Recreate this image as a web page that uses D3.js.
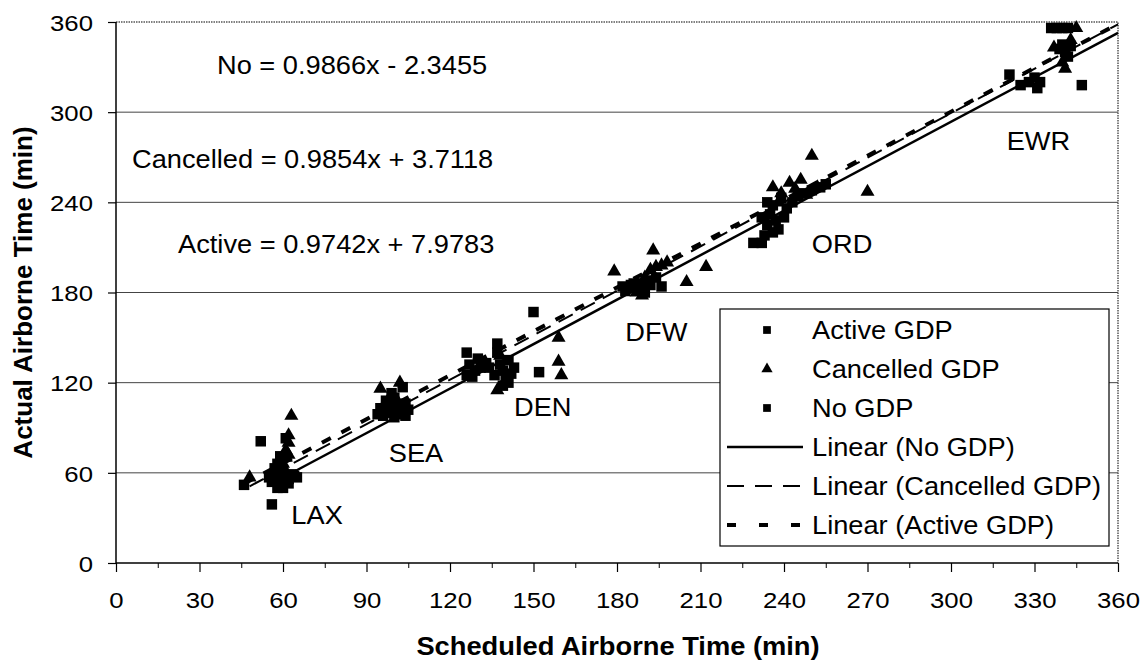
<!DOCTYPE html>
<html>
<head>
<meta charset="utf-8">
<script src="https://cdn.jsdelivr.net/npm/d3@7"></script>
<style>
  html, body { margin: 0; padding: 0; background: #fff; }
  svg { display: block; font-family: "Liberation Sans", Arial, sans-serif; }
</style>
</head>
<body>
<svg id="chart" width="1147" height="666"></svg>
<script>
// Scheduled vs. actual airborne time (minutes), by GDP status
const activeGDP = [
  [46,52],[52,81],[55,57],[58,60],[59,71],[60,62],[62,56],[61,83],[57,63],[64,58],[60,50],
  [96,98],[98,105],[100,97],[102,99],[104,106],[100,110],[99,113],[94,99],[105,102],
  [126,140],[129,128],[131,130],[134,130],[128,124],
  [137,146],[138,132],[140,124],[142,126],[139,118],[136,125],[152,127],
  [182,184],[186,186],[189,186],[191,188],[194,190],[185,185],
  [229,213],[233,218],[235,232],[237,228],[240,230],[243,240],[247,246],[253,250],[234,240],[232,230],
  [321,325],[330,323],[347,318],[336,356],[340,356],[340,345],[342,337],[343,344],[328,320]
];
const cancelledGDP = [
  [48,57],[58,62],[60,64],[61,70],[61,75],[62,80],[62,85],[63,98],[59,60],[60,66],[62,72],[57,56],
  [95,116],[102,120],[96,104],[98,109],[101,108],[104,103],[97,100],
  [137,115],[159,150],[159,134],[160,125],[138,138],[140,122],
  [179,194],[193,208],[190,190],[192,195],[194,197],[196,198],[198,200],[205,187],[212,197],[189,178],[187,180],
  [236,250],[242,253],[250,271],[270,247],[239,246],[244,249],[248,245],[252,250],[246,255],[238,240],
  [345,356],[337,343],[341,329],[340,333],[343,348]
];
const noGDP = [
  [56,39],[57,58],[58,66],[60,55],[61,58],[63,59],[59,52],[56,54],[62,53],[65,57],[58,50],
  [97,102],[99,100],[101,104],[103,101],[104,98],[103,117],[97,108],[95,103],[100,101],
  [127,132],[130,136],[133,133],[126,125],
  [137,140],[139,128],[141,120],[143,130],[141,135],[150,167],
  [184,183],[188,182],[190,180],[192,185],[196,184],[183,181],
  [232,213],[234,225],[236,238],[238,222],[241,236],[245,244],[250,248],[255,252],[239,243],[236,220],
  [325,318],[331,316],[338,356],[342,356],[341,340],[339,342],[332,320]
];

// Linear trend fits: [slope, intercept]
const fitNo = [0.9866, -2.3455];
const fitCancelled = [0.9854, 3.7118];
const fitActive = [0.9742, 7.9783];

const equationLabels = [
  "No = 0.9866x - 2.3455",
  "Cancelled = 0.9854x + 3.7118",
  "Active = 0.9742x + 7.9783"
];
const airportNames = ["LAX", "SEA", "DEN", "DFW", "ORD", "EWR"];
const airportAt = [[63, 26], [98, 67], [143, 98], [183, 148], [250, 206], [320, 275]];

const xTicks = [0, 30, 60, 90, 120, 150, 180, 210, 240, 270, 300, 330, 360];
const xMinorTicks = [15, 45, 75, 105, 135, 165, 195, 225, 255, 285, 315, 345];
const yTicks = [0, 60, 120, 180, 240, 300, 360];
const legendLabels = ["Active GDP", "Cancelled GDP", "No GDP", "Linear (No GDP)", "Linear (Cancelled GDP)", "Linear (Active GDP)"];

const svg = d3.select("#chart");
const L = 116, R = 1118, T = 22, B = 563;
const SX = 1.09; // horizontal widening of the lettering
const x = d3.scaleLinear().domain([0, 360]).range([L, R]);
const y = d3.scaleLinear().domain([0, 360]).range([B, T]);

// horizontal gridlines
svg.append("g").selectAll("line").data(yTicks.filter(v => v > 0 && v < 360)).join("line")
  .attr("x1", L).attr("x2", R).attr("y1", d => y(d)).attr("y2", d => y(d))
  .attr("stroke", "#444").attr("stroke-width", 1);

// dotted frame on top and right
svg.append("path")
  .attr("d", `M${L},${T}H${R}V${B}`)
  .attr("fill", "none").attr("stroke", "#555").attr("stroke-width", 1.5)
  .attr("stroke-dasharray", "1.5,1");

// trend lines
const trendLine = (fit, x0) => {
  const f = v => fit[0] * v + fit[1];
  return d3.line().x(d => x(d)).y(d => y(f(d)))([x0, 360]);
};
const minX = arr => d3.min(arr, d => d[0]);
svg.append("path").attr("d", trendLine(fitNo, minX(noGDP)))
  .attr("stroke", "#000").attr("stroke-width", 2.5).attr("fill", "none");
svg.append("path").attr("d", trendLine(fitCancelled, minX(cancelledGDP)))
  .attr("stroke", "#000").attr("stroke-width", 2).attr("stroke-dasharray", "16,9").attr("fill", "none");
svg.append("path").attr("d", trendLine(fitActive, minX(activeGDP)))
  .attr("stroke", "#000").attr("stroke-width", 4).attr("stroke-dasharray", "10,12").attr("fill", "none");

// markers
const sq = d3.symbol().type(d3.symbolSquare).size(110);
const tri = d3.symbol().type(d3.symbolTriangle).size(85);
const drawPts = (data, sym) => svg.append("g").selectAll("path").data(data).join("path")
  .attr("d", sym).attr("transform", d => `translate(${x(d[0])},${y(d[1])})`).attr("fill", "#000");
drawPts(noGDP, sq);
drawPts(cancelledGDP, tri);
drawPts(activeGDP, sq);

// axes
const yAxis = svg.append("g").attr("transform", `translate(${L},0)`)
  .call(d3.axisLeft(y).tickValues(yTicks).tickSize(8).tickPadding(15));
const xAxis = svg.append("g").attr("transform", `translate(0,${B})`)
  .call(d3.axisBottom(x).tickValues(xTicks).tickSize(9).tickPadding(20));
svg.append("g").attr("transform", `translate(0,${B})`)
  .call(d3.axisBottom(x).tickValues(xMinorTicks).tickSize(5).tickFormat(""))
  .call(g => g.select(".domain").remove());
[yAxis, xAxis].forEach(g => {
  g.select(".domain").attr("stroke", "#000").attr("stroke-width", 1.5);
  g.selectAll(".tick line").attr("stroke", "#000").attr("stroke-width", 1.2);
  g.selectAll(".tick text").attr("font-size", 23).attr("fill", "#000")
    .attr("font-family", "Liberation Sans, Arial, sans-serif");
});
yAxis.selectAll(".tick text").attr("dy", "0.36em")
  .attr("transform", function () { return `translate(${+d3.select(this).attr("x")},0) scale(1.12,1)`; })
  .attr("x", 0);
xAxis.selectAll(".tick text").attr("transform", "scale(1.12,1)");
xAxis.select(".domain").attr("d", `M${L},0H${R}`);
yAxis.select(".domain").attr("d", `M0,${T}V${B}`);

// axis titles
svg.append("text").attr("transform", `translate(${(L + R) / 2 + 1},655) scale(1.05,1)`)
  .attr("text-anchor", "middle").attr("font-size", 26).attr("font-weight", "bold")
  .text("Scheduled Airborne Time (min)");
svg.append("text").attr("transform", `translate(32,${(T + B) / 2}) rotate(-90)`)
  .attr("text-anchor", "middle").attr("font-size", 26).attr("font-weight", "bold")
  .text("Actual Airborne Time (min)");

// widened text helper
const wide = (sel, px, py) => sel.attr("transform", (d, i) => `translate(${px(d, i)},${py(d, i)}) scale(${SX},1)`);

// fit equations
const eqPos = [[217, 74], [132, 168], [178, 253]];
wide(svg.append("g").selectAll("text").data(equationLabels).join("text")
  .attr("font-size", 25).text(d => d), (d, i) => eqPos[i][0], (d, i) => eqPos[i][1]);

// airport labels
wide(svg.append("g").selectAll("text").data(airportNames).join("text")
  .attr("font-size", 25).text(d => d), (d, i) => x(airportAt[i][0]), (d, i) => y(airportAt[i][1]));

// legend
const lg = svg.append("g").attr("transform", "translate(720,309)");
lg.append("rect").attr("width", 389).attr("height", 237)
  .attr("fill", "#fff").attr("stroke", "#000").attr("stroke-width", 1.2);
const rowY = i => 21 + i * 39;
wide(lg.selectAll("text").data(legendLabels).join("text")
  .attr("dy", "0.35em").attr("font-size", 25).text(d => d), () => 92, (d, i) => rowY(i));
[0, 1, 2].forEach(i => {
  lg.append("path").attr("d", d3.symbol().type(i === 1 ? d3.symbolTriangle : d3.symbolSquare).size(i === 1 ? 55 : 60))
    .attr("transform", `translate(47,${rowY(i)})`).attr("fill", "#000");
});
const legLines = [
  { w: 2.5, dash: null },
  { w: 2, dash: "17,11" },
  { w: 4, dash: "9,23" }
];
legLines.forEach((s, i) => {
  const ln = lg.append("line").attr("x1", 7).attr("x2", 83)
    .attr("y1", rowY(i + 3)).attr("y2", rowY(i + 3))
    .attr("stroke", "#000").attr("stroke-width", s.w);
  if (s.dash) ln.attr("stroke-dasharray", s.dash);
});
</script>
</body>
</html>
